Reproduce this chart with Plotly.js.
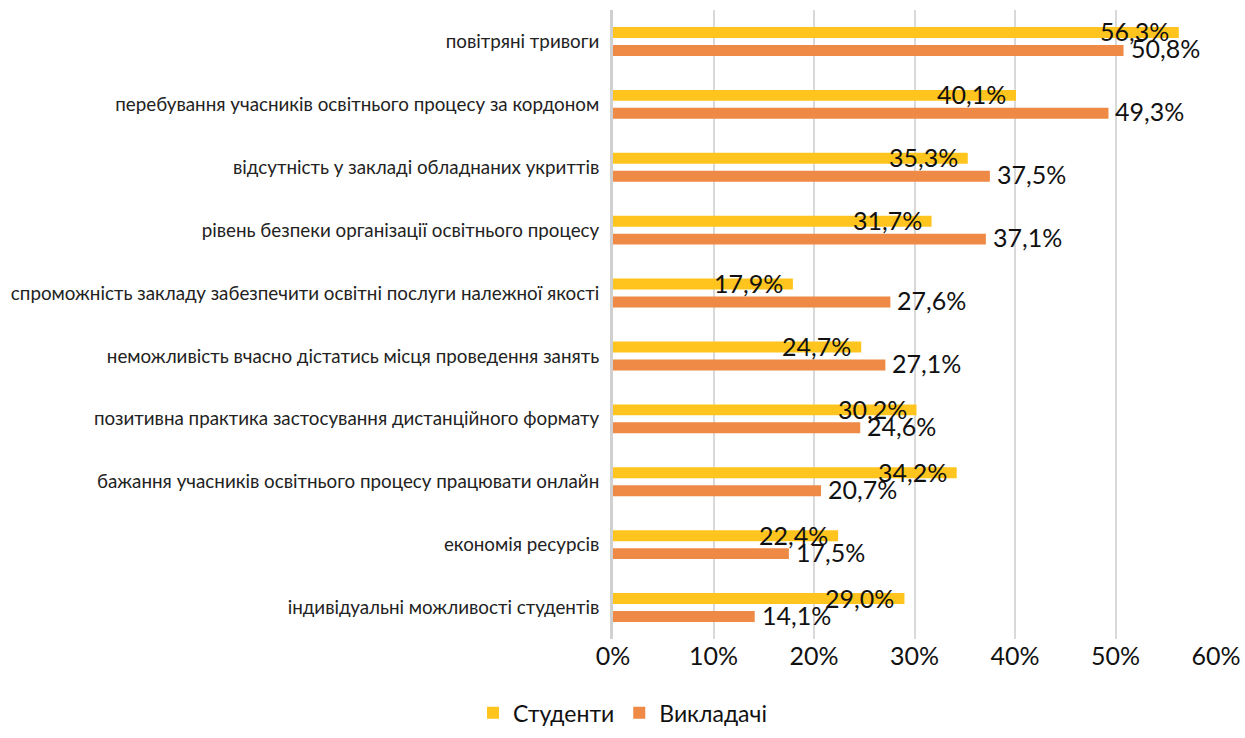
<!DOCTYPE html>
<html>
<head>
<meta charset="utf-8">
<script src="https://cdn.plot.ly/plotly-3.0.1.min.js"></script>
<style>html,body{margin:0;padding:0;background:#fff;}#chart{width:1245px;height:738px;}</style>
</head>
<body>
<div id="chart"></div>
<script>
var categories = [
  "повітряні тривоги",
  "перебування учасників освітнього процесу за кордоном",
  "відсутність у закладі обладнаних укриттів",
  "рівень безпеки організації освітнього процесу",
  "спроможність закладу забезпечити освітні послуги належної якості",
  "неможливість вчасно дістатись місця проведення занять",
  "позитивна практика застосування дистанційного формату",
  "бажання учасників освітнього процесу працювати онлайн",
  "економія ресурсів",
  "індивідуальні можливості студентів"
];
var studentValues = [56.3, 40.1, 35.3, 31.7, 17.9, 24.7, 30.2, 34.2, 22.4, 29.0];
var teacherValues = [50.8, 49.3, 37.5, 37.1, 27.6, 27.1, 24.6, 20.7, 17.5, 14.1];
var seriesNames = ["Студенти", "Викладачі"];
var tickValues = [0, 10, 20, 30, 40, 50, 60];
var tickLabels = ["0%", "10%", "20%", "30%", "40%", "50%", "60%"];

function fmt(v) { return v.toFixed(1).replace('.', ',') + '%'; }

var traces = [
  {type: 'bar', orientation: 'h', name: seriesNames[0], y: categories, x: studentValues,
   marker: {color: '#FFC51E'}, hoverinfo: 'x+y'},
  {type: 'bar', orientation: 'h', name: seriesNames[1], y: categories, x: teacherValues,
   marker: {color: '#EE8A45'}, hoverinfo: 'x+y'}
];

var labelFont = {family: 'Lato, "Open Sans", sans-serif', size: 25, color: '#111'};
var annotations = [];
categories.forEach(function (c, i) {
  annotations.push({x: studentValues[i], y: c, xref: 'x', yref: 'y', text: fmt(studentValues[i]),
    showarrow: false, xanchor: 'right', yanchor: 'middle', xshift: -8, yshift: 10, font: labelFont});
  annotations.push({x: teacherValues[i], y: c, xref: 'x', yref: 'y', text: fmt(teacherValues[i]),
    showarrow: false, xanchor: 'left', yanchor: 'middle', xshift: 5, yshift: -7, font: labelFont});
});

var layout = {
  width: 1245, height: 738,
  margin: {l: 613, r: 29, t: 10, b: 99},
  paper_bgcolor: '#fff', plot_bgcolor: '#fff',
  barmode: 'group', bargap: 0.43, bargroupgap: 0.39,
  font: {family: 'Lato, "Open Sans", sans-serif', color: '#222'},
  xaxis: {range: [0, 60], tickvals: tickValues, ticktext: tickLabels,
    showgrid: true, gridcolor: '#D9D9D9', gridwidth: 2, zeroline: false,
    showline: false, ticks: '', tickfont: {size: 25, color: '#111'}, fixedrange: true},
  yaxis: {autorange: 'reversed', type: 'category', showline: true, linecolor: '#D0D0D0', linewidth: 3,
    ticks: '', ticklabelstandoff: 7, tickfont: {size: 18.8, color: '#222'}, fixedrange: true},
  legend: {orientation: 'h', xref: 'container', yref: 'container', x: 0.5, xanchor: 'center',
    y: 0.005, yanchor: 'bottom', font: {size: 23, color: '#111'}, itemwidth: 30, traceorder: 'normal'},
  annotations: annotations,
  showlegend: true
};

Plotly.newPlot('chart', traces, layout, {displayModeBar: false, staticPlot: true});
</script>
</body>
</html>
